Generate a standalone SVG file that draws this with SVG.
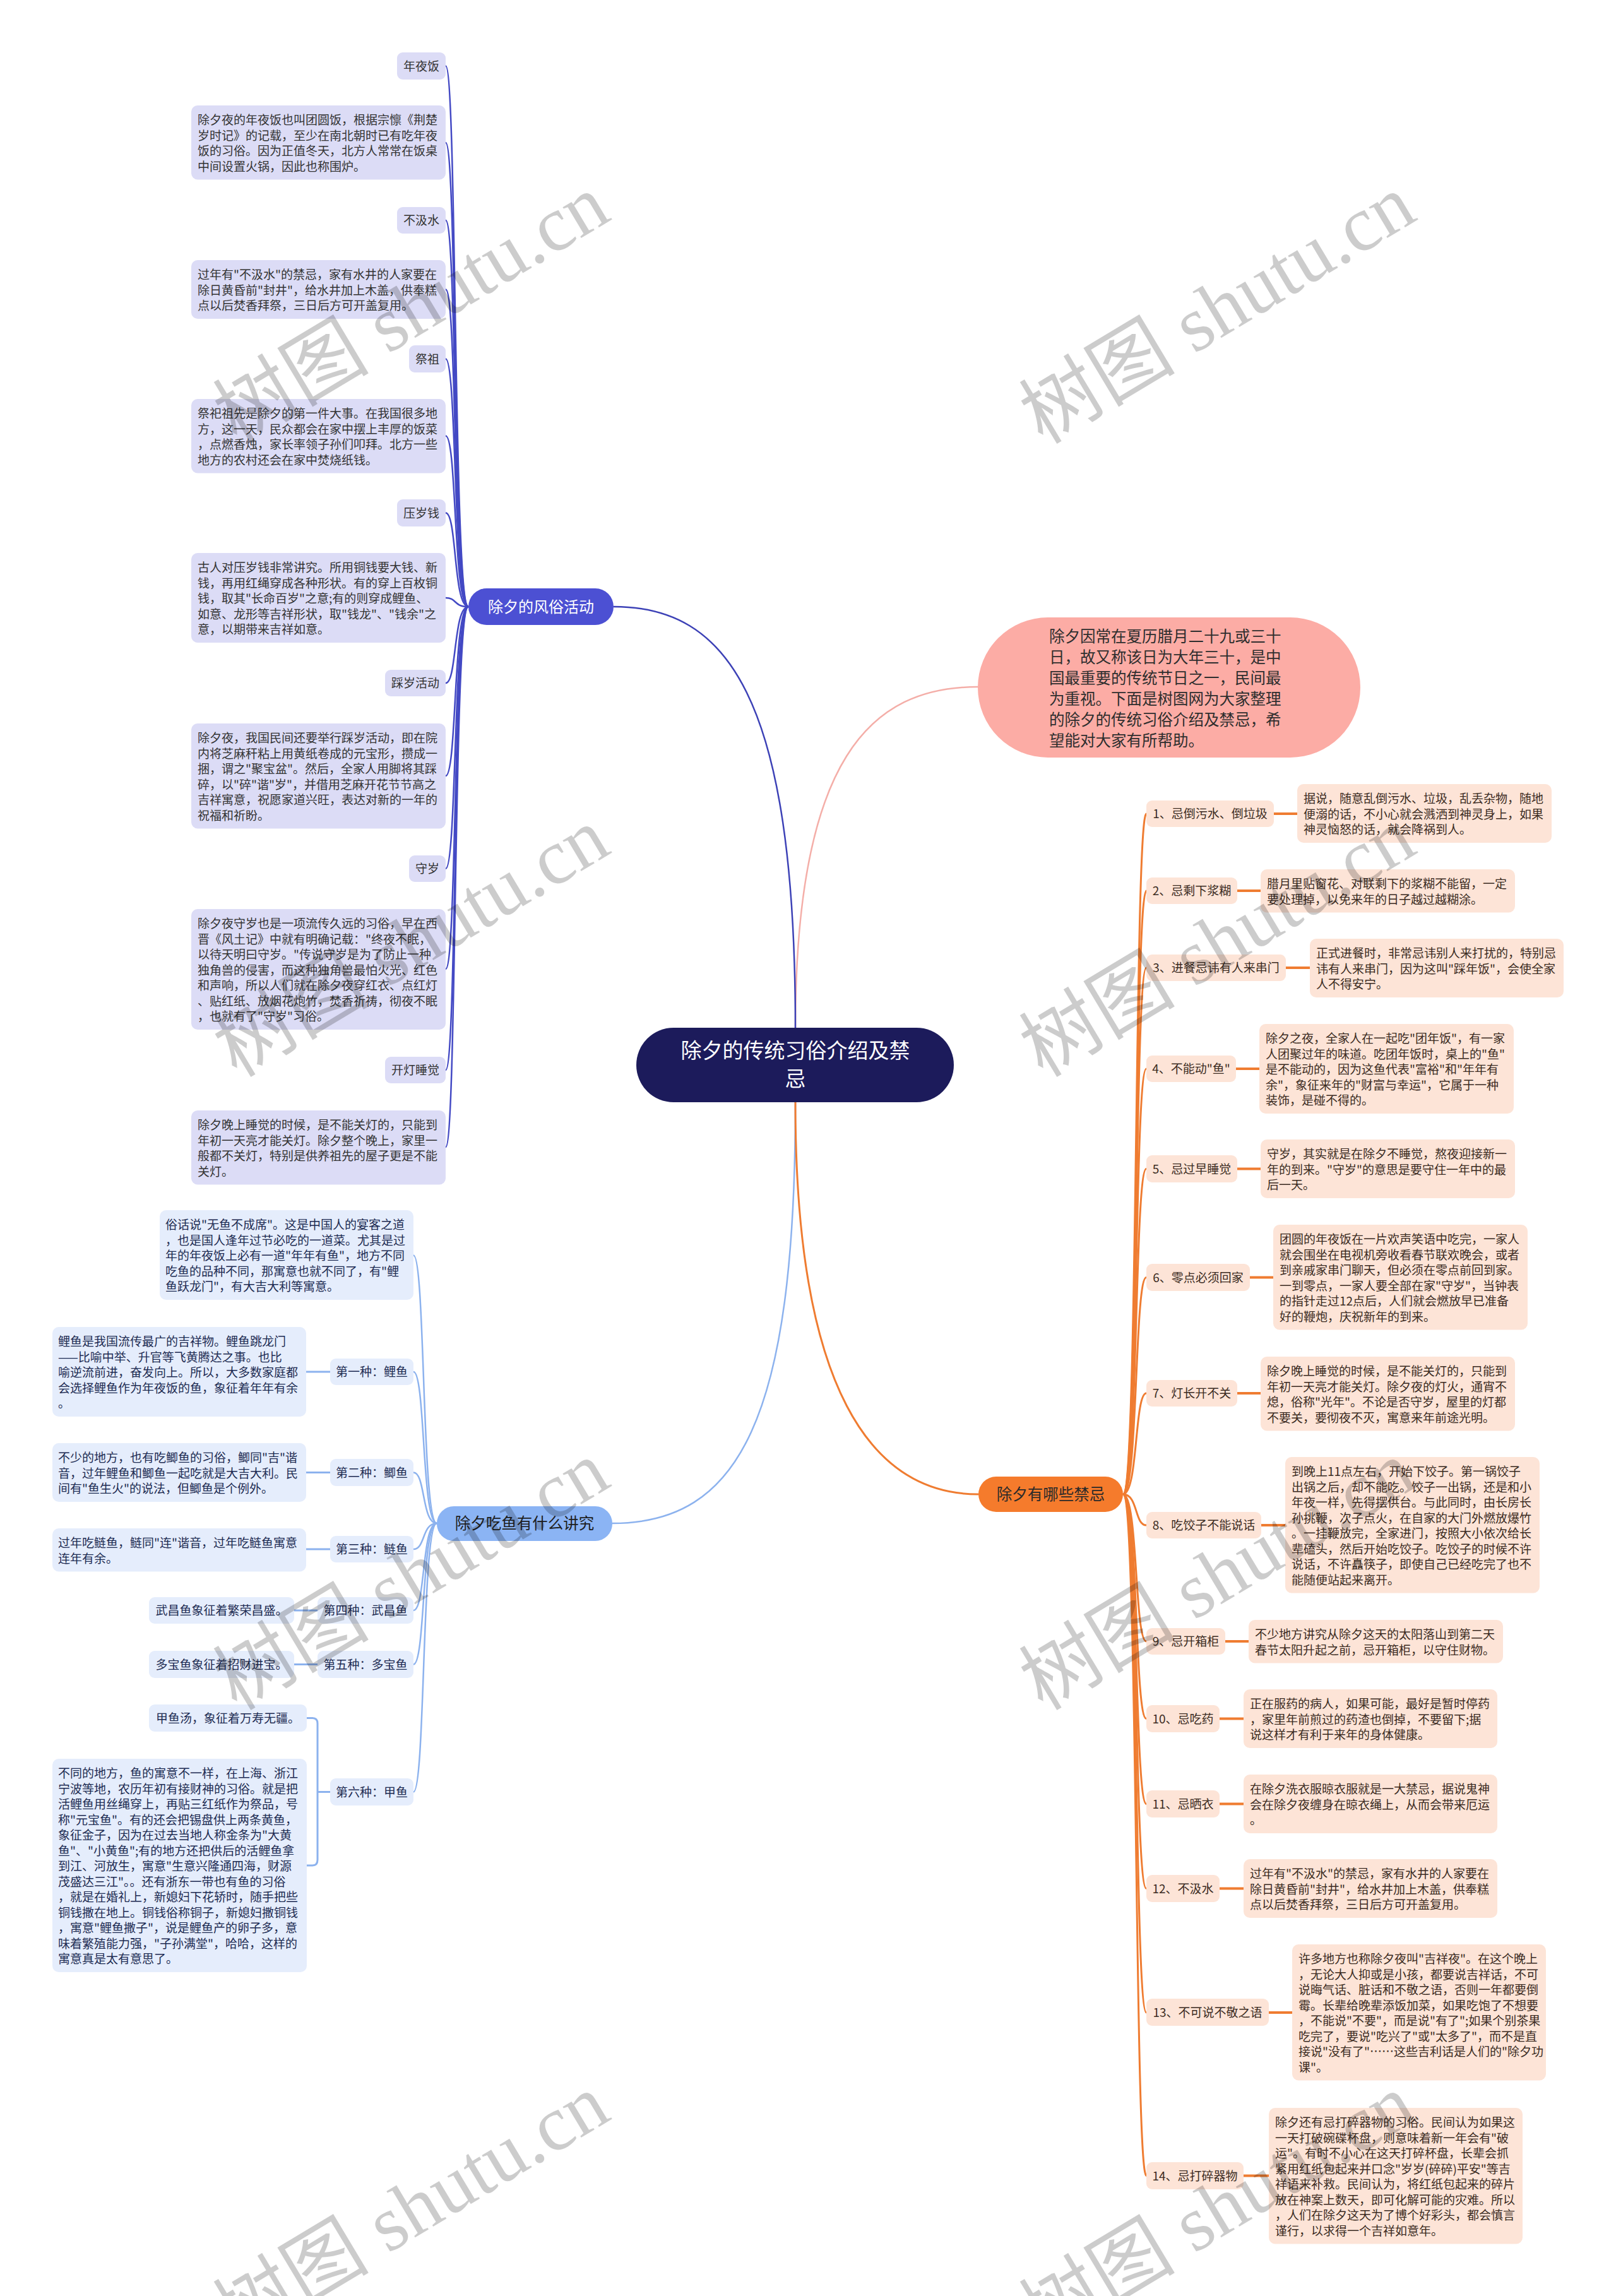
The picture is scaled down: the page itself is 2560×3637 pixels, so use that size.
<svg xmlns="http://www.w3.org/2000/svg" width="2560" height="3637" viewBox="0 0 2560 3637">
<style>
text{font-family:"Noto Sans CJK SC","Liberation Sans",sans-serif}
.sm{font-size:19px}
.mid{text-anchor:middle}
.lv{fill:#dcdcf6}
.lb{fill:#e5edfc}
.pc{fill:#fde4d7}
.tl{fill:#333333}
.tb{fill:#1d2b52}
.to{fill:#3b2b22}
.cb{fill:none;stroke:#4349c4;stroke-width:2.5}
.cf{fill:none;stroke:#8cb2ee;stroke-width:2.5}
.co{fill:none;stroke:#ef7c31;stroke-width:3}
.wm{font-family:"Liberation Serif","Noto Sans CJK SC",serif;font-size:124px;fill:#000;fill-opacity:0.2}
</style>
<rect width="2560" height="3637" fill="#ffffff"/>

<g id="connectors">
  <path d="M1260 1630 C1260 1200 1380 1088 1549 1088" fill="none" stroke="#f4aea8" stroke-width="2.5"/>
  <path d="M1260 1630 C1260 1100 1150 961 972 961" fill="none" stroke="#3c41b6" stroke-width="2.5"/>
  <path d="M1260 1746 C1260 2250 1170 2413 970 2413" fill="none" stroke="#8cb2ee" stroke-width="2.5"/>
  <path d="M1260 1746 C1260 2200 1380 2367 1550 2367" fill="none" stroke="#ef7c31" stroke-width="3"/>
  <g class="cb">
    <path d="M742 961 C718 961 724 104.5 706 104.5"/>
    <path d="M742 961 C718 961 724 226 706 226"/>
    <path d="M742 961 C718 961 724 349 706 349"/>
    <path d="M742 961 C718 961 724 458.5 706 458.5"/>
    <path d="M742 961 C718 961 724 568.5 706 568.5"/>
    <path d="M742 961 C718 961 724 690.5 706 690.5"/>
    <path d="M742 961 C718 961 724 812.5 706 812.5"/>
    <path d="M742 961 C718 961 724 947 706 947"/>
    <path d="M742 961 C718 961 724 1082 706 1082"/>
    <path d="M742 961 C718 961 724 1229 706 1229"/>
    <path d="M742 961 C718 961 724 1376 706 1376"/>
    <path d="M742 961 C718 961 724 1535 706 1535"/>
    <path d="M742 961 C718 961 724 1695 706 1695"/>
    <path d="M742 961 C718 961 724 1817 706 1817"/>
  </g>
  <g class="cf">
    <path d="M692 2413 C668 2413 674 1988.5 655 1988.5"/>
    <path d="M692 2413 C668 2413 674 2173 655 2173"/>
    <path d="M692 2413 C668 2413 674 2332.5 655 2332.5"/>
    <path d="M692 2413 C668 2413 674 2454 655 2454"/>
    <path d="M692 2413 C668 2413 674 2551 655 2551"/>
    <path d="M692 2413 C668 2413 674 2636.5 655 2636.5"/>
    <path d="M692 2413 C668 2413 674 2838.5 655 2838.5"/>
    <path d="M485 2173 L523 2173" stroke-width="3"/>
    <path d="M485 2332.5 L523 2332.5" stroke-width="3"/>
    <path d="M485 2454 L523 2454" stroke-width="3"/>
    <path d="M466 2551 L503 2551" stroke-width="3"/>
    <path d="M466 2636.5 L503 2636.5" stroke-width="3"/>
    <path d="M486 2721.5 L495 2721.5 Q503 2721.5 503 2730 L503 2946 Q503 2955 495 2955 L486 2955" stroke-width="3"/>
    <path d="M503 2838.5 L523 2838.5" stroke-width="3"/>
  </g>
  <g class="co">
    <path d="M1779 2367 C1803 2367 1797 1289 1816 1289"/>
    <path d="M1779 2367 C1803 2367 1797 1411 1816 1411"/>
    <path d="M1779 2367 C1803 2367 1797 1533 1816 1533"/>
    <path d="M1779 2367 C1803 2367 1797 1693 1816 1693"/>
    <path d="M1779 2367 C1803 2367 1797 1851.5 1816 1851.5"/>
    <path d="M1779 2367 C1803 2367 1797 2023.5 1816 2023.5"/>
    <path d="M1779 2367 C1803 2367 1797 2207 1816 2207"/>
    <path d="M1779 2367 C1803 2367 1797 2416 1816 2416"/>
    <path d="M1779 2367 C1803 2367 1797 2600 1816 2600"/>
    <path d="M1779 2367 C1803 2367 1797 2722.5 1816 2722.5"/>
    <path d="M1779 2367 C1803 2367 1797 2857.5 1816 2857.5"/>
    <path d="M1779 2367 C1803 2367 1797 2991.5 1816 2991.5"/>
    <path d="M1779 2367 C1803 2367 1797 3188 1816 3188"/>
    <path d="M1779 2367 C1803 2367 1797 3446.5 1816 3446.5"/>
    <path d="M2018 1289 L2055 1289" stroke-width="4"/>
    <path d="M1960 1411 L1997 1411" stroke-width="4"/>
    <path d="M2037 1533 L2075 1533" stroke-width="4"/>
    <path d="M1958 1693 L1995 1693" stroke-width="4"/>
    <path d="M1960 1851.5 L1997 1851.5" stroke-width="4"/>
    <path d="M1980 2023.5 L2017 2023.5" stroke-width="4"/>
    <path d="M1960 2207 L1997 2207" stroke-width="4"/>
    <path d="M1998 2416 L2036 2416" stroke-width="4"/>
    <path d="M1941 2600 L1978 2600" stroke-width="4"/>
    <path d="M1932 2722.5 L1970 2722.5" stroke-width="4"/>
    <path d="M1932 2857.5 L1970 2857.5" stroke-width="4"/>
    <path d="M1932 2991.5 L1970 2991.5" stroke-width="4"/>
    <path d="M2010 3188 L2047 3188" stroke-width="4"/>
    <path d="M1970 3446.5 L2010 3446.5" stroke-width="4"/>
  </g>
</g>

<g id="center">
  <rect x="1008" y="1628" width="503" height="118" rx="59" fill="#1c1b5b"/>
  <text x="1260" y="1676" class="mid" font-size="33" fill="#ffffff">除夕的传统习俗介绍及禁</text>
  <text x="1260" y="1721" class="mid" font-size="33" fill="#ffffff">忌</text>
</g>

<g id="intro">
  <rect x="1549" y="978" width="606" height="222" rx="111" fill="#fcaca5"/>
  <text font-size="24.5" fill="#2e2e2e">
    <tspan x="1662" y="1017">除夕因常在夏历腊月二十九或三十</tspan>
    <tspan x="1662" y="1050">日，故又称该日为大年三十，是中</tspan>
    <tspan x="1662" y="1083">国最重要的传统节日之一，民间最</tspan>
    <tspan x="1662" y="1116">为重视。下面是树图网为大家整理</tspan>
    <tspan x="1662" y="1149">的除夕的传统习俗介绍及禁忌，希</tspan>
    <tspan x="1662" y="1182">望能对大家有所帮助。</tspan>
  </text>
</g>

<g id="customs">
  <rect x="742" y="932" width="230" height="58" rx="29" fill="#4c50d3"/>
  <text x="857" y="969.5" class="mid" font-size="24" fill="#ffffff">除夕的风俗活动</text>
</g>
<g id="customs-1" class="sm">
  <rect class="lv" x="629" y="83" width="77" height="43" rx="9"/>
  <text class="tl mid" x="667.5" y="111.5">年夜饭</text>
</g>
<g id="customs-1d" class="sm">
  <rect class="lv" x="303" y="167" width="403" height="117.5" rx="10"/>
  <text class="tl">
    <tspan x="313" y="197">除夕夜的年夜饭也叫团圆饭，根据宗懔《荆楚</tspan>
    <tspan x="313" y="221.5">岁时记》的记载，至少在南北朝时已有吃年夜</tspan>
    <tspan x="313" y="246">饭的习俗。因为正值冬天，北方人常常在饭桌</tspan>
    <tspan x="313" y="270.5">中间设置火锅，因此也称围炉。</tspan>
  </text>
</g>
<g id="customs-2" class="sm">
  <rect class="lv" x="629" y="328" width="77" height="42" rx="9"/>
  <text class="tl mid" x="667.5" y="356">不汲水</text>
</g>
<g id="customs-2d" class="sm">
  <rect class="lv" x="303" y="412" width="403" height="93" rx="10"/>
  <text class="tl">
    <tspan x="313" y="442">过年有"不汲水"的禁忌，家有水井的人家要在</tspan>
    <tspan x="313" y="466.5">除日黄昏前"封井"，给水井加上木盖，供奉糕</tspan>
    <tspan x="313" y="491">点以后焚香拜祭，三日后方可开盖复用。</tspan>
  </text>
</g>
<g id="customs-3" class="sm">
  <rect class="lv" x="648" y="547" width="58" height="43" rx="9"/>
  <text class="tl mid" x="677" y="575.5">祭祖</text>
</g>
<g id="customs-3d" class="sm">
  <rect class="lv" x="303" y="632" width="403" height="117.5" rx="10"/>
  <text class="tl">
    <tspan x="313" y="662">祭祀祖先是除夕的第一件大事。在我国很多地</tspan>
    <tspan x="313" y="686.5">方，这一天，民众都会在家中摆上丰厚的饭菜</tspan>
    <tspan x="313" y="711">，点燃香烛，家长率领子孙们叩拜。北方一些</tspan>
    <tspan x="313" y="735.5">地方的农村还会在家中焚烧纸钱。</tspan>
  </text>
</g>
<g id="customs-4" class="sm">
  <rect class="lv" x="629" y="791" width="77" height="43" rx="9"/>
  <text class="tl mid" x="667.5" y="819.5">压岁钱</text>
</g>
<g id="customs-4d" class="sm">
  <rect class="lv" x="303" y="876" width="403" height="142" rx="10"/>
  <text class="tl">
    <tspan x="313" y="906">古人对压岁钱非常讲究。所用铜钱要大钱、新</tspan>
    <tspan x="313" y="930.5">钱，再用红绳穿成各种形状。有的穿上百枚铜</tspan>
    <tspan x="313" y="955">钱，取其"长命百岁"之意;有的则穿成鲤鱼、</tspan>
    <tspan x="313" y="979.5">如意、龙形等吉祥形状，取"钱龙"、"钱余"之</tspan>
    <tspan x="313" y="1004">意，以期带来吉祥如意。</tspan>
  </text>
</g>
<g id="customs-5" class="sm">
  <rect class="lv" x="610" y="1061" width="96" height="42" rx="9"/>
  <text class="tl mid" x="658" y="1089">踩岁活动</text>
</g>
<g id="customs-5d" class="sm">
  <rect class="lv" x="303" y="1146" width="403" height="166.5" rx="10"/>
  <text class="tl">
    <tspan x="313" y="1176">除夕夜，我国民间还要举行踩岁活动，即在院</tspan>
    <tspan x="313" y="1200.5">内将芝麻秆粘上用黄纸卷成的元宝形，攒成一</tspan>
    <tspan x="313" y="1225">捆，谓之"聚宝盆"。然后，全家人用脚将其踩</tspan>
    <tspan x="313" y="1249.5">碎，以"碎"谐"岁"，并借用芝麻开花节节高之</tspan>
    <tspan x="313" y="1274">吉祥寓意，祝愿家道兴旺，表达对新的一年的</tspan>
    <tspan x="313" y="1298.5">祝福和祈盼。</tspan>
  </text>
</g>
<g id="customs-6" class="sm">
  <rect class="lv" x="648" y="1355" width="58" height="42" rx="9"/>
  <text class="tl mid" x="677" y="1383">守岁</text>
</g>
<g id="customs-6d" class="sm">
  <rect class="lv" x="303" y="1440" width="403" height="191" rx="10"/>
  <text class="tl">
    <tspan x="313" y="1470">除夕夜守岁也是一项流传久远的习俗，早在西</tspan>
    <tspan x="313" y="1494.5">晋《风土记》中就有明确记载："终夜不眠，</tspan>
    <tspan x="313" y="1519">以待天明曰守岁。"传说守岁是为了防止一种</tspan>
    <tspan x="313" y="1543.5">独角兽的侵害，而这种独角兽最怕火光、红色</tspan>
    <tspan x="313" y="1568">和声响，所以人们就在除夕夜穿红衣、点红灯</tspan>
    <tspan x="313" y="1592.5">、贴红纸、放烟花炮竹，焚香祈祷，彻夜不眠</tspan>
    <tspan x="313" y="1617">，也就有了"守岁"习俗。</tspan>
  </text>
</g>
<g id="customs-7" class="sm">
  <rect class="lv" x="610" y="1674" width="96" height="42" rx="9"/>
  <text class="tl mid" x="658" y="1702">开灯睡觉</text>
</g>
<g id="customs-7d" class="sm">
  <rect class="lv" x="303" y="1759" width="403" height="117.5" rx="10"/>
  <text class="tl">
    <tspan x="313" y="1789">除夕晚上睡觉的时候，是不能关灯的，只能到</tspan>
    <tspan x="313" y="1813.5">年初一天亮才能关灯。除夕整个晚上，家里一</tspan>
    <tspan x="313" y="1838">般都不关灯，特别是供养祖先的屋子更是不能</tspan>
    <tspan x="313" y="1862.5">关灯。</tspan>
  </text>
</g>

<g id="fish">
  <rect x="692" y="2386" width="278" height="55" rx="27" fill="#8bb4f4"/>
  <text x="831" y="2422" class="mid" font-size="24.5" fill="#1e1e1e">除夕吃鱼有什么讲究</text>
</g>
<g id="fish-0" class="sm">
  <rect class="lb" x="253" y="1917" width="402" height="142" rx="10"/>
  <text class="tb">
    <tspan x="262" y="1947">俗话说"无鱼不成席"。这是中国人的宴客之道</tspan>
    <tspan x="262" y="1971.5">，也是国人逢年过节必吃的一道菜。尤其是过</tspan>
    <tspan x="262" y="1996">年的年夜饭上必有一道"年年有鱼"，地方不同</tspan>
    <tspan x="262" y="2020.5">吃鱼的品种不同，那寓意也就不同了，有"鲤</tspan>
    <tspan x="262" y="2045">鱼跃龙门"，有大吉大利等寓意。</tspan>
  </text>
</g>
<g id="fish-1" class="sm">
  <rect class="lb" x="523" y="2152" width="132" height="42" rx="9"/>
  <text class="tb mid" x="589" y="2180">第一种：鲤鱼</text>
</g>
<g id="fish-1d" class="sm">
  <rect class="lb" x="83" y="2102" width="402" height="142" rx="10"/>
  <text class="tb">
    <tspan x="92" y="2132">鲤鱼是我国流传最广的吉祥物。鲤鱼跳龙门</tspan>
    <tspan x="92" y="2156.5">——比喻中举、升官等飞黄腾达之事。也比</tspan>
    <tspan x="92" y="2181">喻逆流前进，奋发向上。所以，大多数家庭都</tspan>
    <tspan x="92" y="2205.5">会选择鲤鱼作为年夜饭的鱼，象征着年年有余</tspan>
    <tspan x="92" y="2230">。</tspan>
  </text>
</g>
<g id="fish-2" class="sm">
  <rect class="lb" x="523" y="2311" width="132" height="43" rx="9"/>
  <text class="tb mid" x="589" y="2339.5">第二种：鲫鱼</text>
</g>
<g id="fish-2d" class="sm">
  <rect class="lb" x="83" y="2286" width="402" height="93" rx="10"/>
  <text class="tb">
    <tspan x="92" y="2316">不少的地方，也有吃鲫鱼的习俗，鲫同"吉"谐</tspan>
    <tspan x="92" y="2340.5">音，过年鲤鱼和鲫鱼一起吃就是大吉大利。民</tspan>
    <tspan x="92" y="2365">间有"鱼生火"的说法，但鲫鱼是个例外。</tspan>
  </text>
</g>
<g id="fish-3" class="sm">
  <rect class="lb" x="523" y="2433" width="132" height="42" rx="9"/>
  <text class="tb mid" x="589" y="2461">第三种：鲢鱼</text>
</g>
<g id="fish-3d" class="sm">
  <rect class="lb" x="83" y="2421" width="402" height="68.5" rx="10"/>
  <text class="tb">
    <tspan x="92" y="2451">过年吃鲢鱼，鲢同"连"谐音，过年吃鲢鱼寓意</tspan>
    <tspan x="92" y="2475.5">连年有余。</tspan>
  </text>
</g>
<g id="fish-4" class="sm">
  <rect class="lb" x="503" y="2530" width="152" height="42" rx="9"/>
  <text class="tb mid" x="579" y="2558">第四种：武昌鱼</text>
</g>
<g id="fish-4d" class="sm">
  <rect class="lb" x="236" y="2530" width="230" height="42" rx="9"/>
  <text class="tb mid" x="351" y="2558">武昌鱼象征着繁荣昌盛。</text>
</g>
<g id="fish-5" class="sm">
  <rect class="lb" x="503" y="2615" width="152" height="43" rx="9"/>
  <text class="tb mid" x="579" y="2643.5">第五种：多宝鱼</text>
</g>
<g id="fish-5d" class="sm">
  <rect class="lb" x="236" y="2615" width="230" height="43" rx="9"/>
  <text class="tb mid" x="351" y="2643.5">多宝鱼象征着招财进宝。</text>
</g>
<g id="fish-6a" class="sm">
  <rect class="lb" x="236" y="2700" width="250" height="43" rx="9"/>
  <text class="tb mid" x="361" y="2728.5">甲鱼汤，象征着万寿无疆。</text>
</g>
<g id="fish-6" class="sm">
  <rect class="lb" x="523" y="2817" width="132" height="43" rx="9"/>
  <text class="tb mid" x="589" y="2845.5">第六种：甲鱼</text>
</g>
<g id="fish-6d" class="sm">
  <rect class="lb" x="83" y="2786" width="403" height="338" rx="10"/>
  <text class="tb">
    <tspan x="92" y="2816">不同的地方，鱼的寓意不一样，在上海、浙江</tspan>
    <tspan x="92" y="2840.5">宁波等地，农历年初有接财神的习俗。就是把</tspan>
    <tspan x="92" y="2865">活鲤鱼用丝绳穿上，再贴三红纸作为祭品，号</tspan>
    <tspan x="92" y="2889.5">称"元宝鱼"。有的还会把锡盘供上两条黄鱼，</tspan>
    <tspan x="92" y="2914">象征金子，因为在过去当地人称金条为"大黄</tspan>
    <tspan x="92" y="2938.5">鱼"、"小黄鱼";有的地方还把供后的活鲤鱼拿</tspan>
    <tspan x="92" y="2963">到江、河放生，寓意"生意兴隆通四海，财源</tspan>
    <tspan x="92" y="2987.5">茂盛达三江"。。还有浙东一带也有鱼的习俗</tspan>
    <tspan x="92" y="3012">，就是在婚礼上，新媳妇下花轿时，随手把些</tspan>
    <tspan x="92" y="3036.5">铜钱撒在地上。铜钱俗称铜子，新媳妇撒铜钱</tspan>
    <tspan x="92" y="3061">，寓意"鲤鱼撒子"，说是鲤鱼产的卵子多，意</tspan>
    <tspan x="92" y="3085.5">味着繁殖能力强，"子孙满堂"，哈哈，这样的</tspan>
    <tspan x="92" y="3110">寓意真是太有意思了。</tspan>
  </text>
</g>

<g id="taboo">
  <rect x="1550" y="2339" width="229" height="56" rx="28" fill="#f57b2c"/>
  <text x="1664.5" y="2375.5" class="mid" font-size="24.5" fill="#2a2a2a">除夕有哪些禁忌</text>
</g>
<g id="taboo-1" class="sm">
  <rect class="pc" x="1816" y="1268" width="202" height="42" rx="9"/>
  <text class="to mid" x="1917" y="1296">1、忌倒污水、倒垃圾</text>
</g>
<g id="taboo-1d" class="sm">
  <rect class="pc" x="2055" y="1242" width="403" height="93" rx="10"/>
  <text class="to">
    <tspan x="2065" y="1272">据说，随意乱倒污水、垃圾，乱丢杂物，随地</tspan>
    <tspan x="2065" y="1296.5">便溺的话，不小心就会溅洒到神灵身上，如果</tspan>
    <tspan x="2065" y="1321">神灵恼怒的话，就会降祸到人。</tspan>
  </text>
</g>
<g id="taboo-2" class="sm">
  <rect class="pc" x="1816" y="1390" width="144" height="42" rx="9"/>
  <text class="to mid" x="1888" y="1418">2、忌剩下浆糊</text>
</g>
<g id="taboo-2d" class="sm">
  <rect class="pc" x="1997" y="1377" width="403" height="68.5" rx="10"/>
  <text class="to">
    <tspan x="2007" y="1407">腊月里贴窗花、对联剩下的浆糊不能留，一定</tspan>
    <tspan x="2007" y="1431.5">要处理掉，以免来年的日子越过越糊涂。</tspan>
  </text>
</g>
<g id="taboo-3" class="sm">
  <rect class="pc" x="1816" y="1512" width="221" height="42" rx="9"/>
  <text class="to mid" x="1926.5" y="1540">3、进餐忌讳有人来串门</text>
</g>
<g id="taboo-3d" class="sm">
  <rect class="pc" x="2075" y="1487" width="402" height="93" rx="10"/>
  <text class="to">
    <tspan x="2085" y="1517">正式进餐时，非常忌讳别人来打扰的，特别忌</tspan>
    <tspan x="2085" y="1541.5">讳有人来串门，因为这叫"踩年饭"，会使全家</tspan>
    <tspan x="2085" y="1566">人不得安宁。</tspan>
  </text>
</g>
<g id="taboo-4" class="sm">
  <rect class="pc" x="1816" y="1672" width="142" height="42" rx="9"/>
  <text class="to mid" x="1887" y="1700">4、不能动"鱼"</text>
</g>
<g id="taboo-4d" class="sm">
  <rect class="pc" x="1995" y="1622" width="403" height="142" rx="10"/>
  <text class="to">
    <tspan x="2005" y="1652">除夕之夜，全家人在一起吃"团年饭"，有一家</tspan>
    <tspan x="2005" y="1676.5">人团聚过年的味道。吃团年饭时，桌上的"鱼"</tspan>
    <tspan x="2005" y="1701">是不能动的，因为这鱼代表"富裕"和"年年有</tspan>
    <tspan x="2005" y="1725.5">余"，象征来年的"财富与幸运"，它属于一种</tspan>
    <tspan x="2005" y="1750">装饰，是碰不得的。</tspan>
  </text>
</g>
<g id="taboo-5" class="sm">
  <rect class="pc" x="1816" y="1830" width="144" height="43" rx="9"/>
  <text class="to mid" x="1888" y="1858.5">5、忌过早睡觉</text>
</g>
<g id="taboo-5d" class="sm">
  <rect class="pc" x="1997" y="1805" width="403" height="93" rx="10"/>
  <text class="to">
    <tspan x="2007" y="1835">守岁，其实就是在除夕不睡觉，熬夜迎接新一</tspan>
    <tspan x="2007" y="1859.5">年的到来。"守岁"的意思是要守住一年中的最</tspan>
    <tspan x="2007" y="1884">后一天。</tspan>
  </text>
</g>
<g id="taboo-6" class="sm">
  <rect class="pc" x="1816" y="2002" width="164" height="43" rx="9"/>
  <text class="to mid" x="1898" y="2030.5">6、零点必须回家</text>
</g>
<g id="taboo-6d" class="sm">
  <rect class="pc" x="2017" y="1940" width="403" height="166.5" rx="10"/>
  <text class="to">
    <tspan x="2027" y="1970">团圆的年夜饭在一片欢声笑语中吃完，一家人</tspan>
    <tspan x="2027" y="1994.5">就会围坐在电视机旁收看春节联欢晚会，或者</tspan>
    <tspan x="2027" y="2019">到亲戚家串门聊天，但必须在零点前回到家。</tspan>
    <tspan x="2027" y="2043.5">一到零点，一家人要全部在家"守岁"，当钟表</tspan>
    <tspan x="2027" y="2068">的指针走过12点后，人们就会燃放早已准备</tspan>
    <tspan x="2027" y="2092.5">好的鞭炮，庆祝新年的到来。</tspan>
  </text>
</g>
<g id="taboo-7" class="sm">
  <rect class="pc" x="1816" y="2186" width="144" height="42" rx="9"/>
  <text class="to mid" x="1888" y="2214">7、灯长开不关</text>
</g>
<g id="taboo-7d" class="sm">
  <rect class="pc" x="1997" y="2149" width="403" height="117.5" rx="10"/>
  <text class="to">
    <tspan x="2007" y="2179">除夕晚上睡觉的时候，是不能关灯的，只能到</tspan>
    <tspan x="2007" y="2203.5">年初一天亮才能关灯。除夕夜的灯火，通宵不</tspan>
    <tspan x="2007" y="2228">熄，俗称"光年"。不论是否守岁，屋里的灯都</tspan>
    <tspan x="2007" y="2252.5">不要关，要彻夜不灭，寓意来年前途光明。</tspan>
  </text>
</g>
<g id="taboo-8" class="sm">
  <rect class="pc" x="1816" y="2395" width="182" height="42" rx="9"/>
  <text class="to mid" x="1907" y="2423">8、吃饺子不能说话</text>
</g>
<g id="taboo-8d" class="sm">
  <rect class="pc" x="2036" y="2308" width="403" height="215.5" rx="10"/>
  <text class="to">
    <tspan x="2046" y="2338">到晚上11点左右，开始下饺子。第一锅饺子</tspan>
    <tspan x="2046" y="2362.5">出锅之后，却不能吃。饺子一出锅，还是和小</tspan>
    <tspan x="2046" y="2387">年夜一样，先得摆供台。与此同时，由长房长</tspan>
    <tspan x="2046" y="2411.5">孙挑鞭，次子点火，在自家的大门外燃放爆竹</tspan>
    <tspan x="2046" y="2436">。一挂鞭放完，全家进门，按照大小依次给长</tspan>
    <tspan x="2046" y="2460.5">辈磕头，然后开始吃饺子。吃饺子的时候不许</tspan>
    <tspan x="2046" y="2485">说话，不许矗筷子，即使自己已经吃完了也不</tspan>
    <tspan x="2046" y="2509.5">能随便站起来离开。</tspan>
  </text>
</g>
<g id="taboo-9" class="sm">
  <rect class="pc" x="1816" y="2579" width="125" height="42" rx="9"/>
  <text class="to mid" x="1878.5" y="2607">9、忌开箱柜</text>
</g>
<g id="taboo-9d" class="sm">
  <rect class="pc" x="1978" y="2566" width="403" height="68.5" rx="10"/>
  <text class="to">
    <tspan x="1988" y="2596">不少地方讲究从除夕这天的太阳落山到第二天</tspan>
    <tspan x="1988" y="2620.5">春节太阳升起之前，忌开箱柜，以守住财物。</tspan>
  </text>
</g>
<g id="taboo-10" class="sm">
  <rect class="pc" x="1816" y="2701" width="116" height="43" rx="9"/>
  <text class="to mid" x="1874" y="2729.5">10、忌吃药</text>
</g>
<g id="taboo-10d" class="sm">
  <rect class="pc" x="1970" y="2676" width="402" height="93" rx="10"/>
  <text class="to">
    <tspan x="1980" y="2706">正在服药的病人，如果可能，最好是暂时停药</tspan>
    <tspan x="1980" y="2730.5">，家里年前煎过的药渣也倒掉，不要留下;据</tspan>
    <tspan x="1980" y="2755">说这样才有利于来年的身体健康。</tspan>
  </text>
</g>
<g id="taboo-11" class="sm">
  <rect class="pc" x="1816" y="2836" width="116" height="43" rx="9"/>
  <text class="to mid" x="1874" y="2864.5">11、忌晒衣</text>
</g>
<g id="taboo-11d" class="sm">
  <rect class="pc" x="1970" y="2811" width="402" height="93" rx="10"/>
  <text class="to">
    <tspan x="1980" y="2841">在除夕洗衣服晾衣服就是一大禁忌，据说鬼神</tspan>
    <tspan x="1980" y="2865.5">会在除夕夜缠身在晾衣绳上，从而会带来厄运</tspan>
    <tspan x="1980" y="2890">。</tspan>
  </text>
</g>
<g id="taboo-12" class="sm">
  <rect class="pc" x="1816" y="2970" width="116" height="43" rx="9"/>
  <text class="to mid" x="1874" y="2998.5">12、不汲水</text>
</g>
<g id="taboo-12d" class="sm">
  <rect class="pc" x="1970" y="2945" width="402" height="93" rx="10"/>
  <text class="to">
    <tspan x="1980" y="2975">过年有"不汲水"的禁忌，家有水井的人家要在</tspan>
    <tspan x="1980" y="2999.5">除日黄昏前"封井"，给水井加上木盖，供奉糕</tspan>
    <tspan x="1980" y="3024">点以后焚香拜祭，三日后方可开盖复用。</tspan>
  </text>
</g>
<g id="taboo-13" class="sm">
  <rect class="pc" x="1816" y="3166" width="194" height="43" rx="9"/>
  <text class="to mid" x="1913" y="3194.5">13、不可说不敬之语</text>
</g>
<g id="taboo-13d" class="sm">
  <rect class="pc" x="2047" y="3080" width="402" height="215.5" rx="10"/>
  <text class="to">
    <tspan x="2057" y="3110">许多地方也称除夕夜叫"吉祥夜"。在这个晚上</tspan>
    <tspan x="2057" y="3134.5">，无论大人抑或是小孩，都要说吉祥话，不可</tspan>
    <tspan x="2057" y="3159">说晦气话、脏话和不敬之语，否则一年都要倒</tspan>
    <tspan x="2057" y="3183.5">霉。长辈给晚辈添饭加菜，如果吃饱了不想要</tspan>
    <tspan x="2057" y="3208">，不能说"不要"，而是说"有了";如果个别茶果</tspan>
    <tspan x="2057" y="3232.5">吃完了，要说"吃兴了"或"太多了"，而不是直</tspan>
    <tspan x="2057" y="3257">接说"没有了"……这些吉利话是人们的"除夕功</tspan>
    <tspan x="2057" y="3281.5">课"。</tspan>
  </text>
</g>
<g id="taboo-14" class="sm">
  <rect class="pc" x="1816" y="3425" width="154" height="43" rx="9"/>
  <text class="to mid" x="1893" y="3453.5">14、忌打碎器物</text>
</g>
<g id="taboo-14d" class="sm">
  <rect class="pc" x="2010" y="3339" width="402" height="215.5" rx="10"/>
  <text class="to">
    <tspan x="2020" y="3369">除夕还有忌打碎器物的习俗。民间认为如果这</tspan>
    <tspan x="2020" y="3393.5">一天打破碗碟杯盘，则意味着新一年会有"破</tspan>
    <tspan x="2020" y="3418">运"。有时不小心在这天打碎杯盘，长辈会抓</tspan>
    <tspan x="2020" y="3442.5">紧用红纸包起来并口念"岁岁(碎碎)平安"等吉</tspan>
    <tspan x="2020" y="3467">祥语来补救。民间认为，将红纸包起来的碎片</tspan>
    <tspan x="2020" y="3491.5">放在神案上数天，即可化解可能的灾难。所以</tspan>
    <tspan x="2020" y="3516">，人们在除夕这天为了博个好彩头，都会慎言</tspan>
    <tspan x="2020" y="3540.5">谨行，以求得一个吉祥如意年。</tspan>
  </text>
</g>

<g id="watermarks">
  <text class="wm" x="375" y="705" transform="rotate(-31 375 705)">树图 shutu.cn</text>
  <text class="wm" x="1652" y="705" transform="rotate(-31 1652 705)">树图 shutu.cn</text>
  <text class="wm" x="375" y="1708" transform="rotate(-31 375 1708)">树图 shutu.cn</text>
  <text class="wm" x="1652" y="1708" transform="rotate(-31 1652 1708)">树图 shutu.cn</text>
  <text class="wm" x="375" y="2711" transform="rotate(-31 375 2711)">树图 shutu.cn</text>
  <text class="wm" x="1652" y="2711" transform="rotate(-31 1652 2711)">树图 shutu.cn</text>
  <text class="wm" x="375" y="3714" transform="rotate(-31 375 3714)">树图 shutu.cn</text>
  <text class="wm" x="1652" y="3714" transform="rotate(-31 1652 3714)">树图 shutu.cn</text>
</g>
</svg>
